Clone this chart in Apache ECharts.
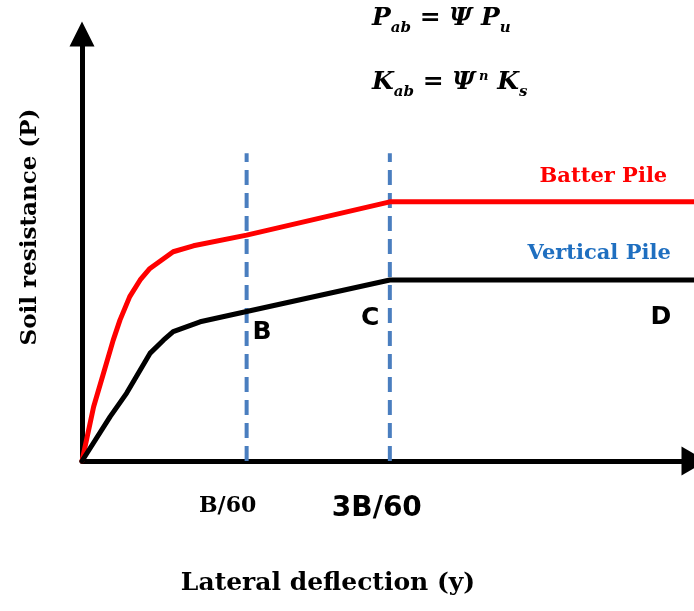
<!DOCTYPE html>
<html>
<head>
<meta charset="utf-8">
<script src="https://cdn.jsdelivr.net/npm/echarts@6/dist/echarts.min.js"></script>
<style>
html, body { margin: 0; padding: 0; background: #ffffff; }
#chart { width: 694px; height: 611px; }
</style>
</head>
<body>
<div id="chart"></div>
<script>
// Schematic p-y curves: lateral deflection (0-100) against soil resistance (0-100)
const batterY = [0, 1.9, 3.5, 5.1, 6.2, 7.8, 9.5, 11.1, 14.9, 18.2, 26.9, 50.3, 100];
const batterP = [0, 12.7, 20.5, 28.3, 33.0, 38.5, 42.4, 45.1, 49.0, 50.4, 52.9, 60.7, 60.7];
const verticalY = [0, 4.6, 7.3, 11.1, 13.3, 14.9, 19.3, 26.9, 50.3, 100];
const verticalP = [0, 10.4, 15.9, 25.2, 28.3, 30.3, 32.6, 35.0, 42.4, 42.4];

// Limit deflections B/60 and 3B/60 (dashed guides)
const limitY = [26.9, 50.3];
const limitTop = 72.1;
const tickLabels = ['B/60', '3B/60'];

// Point labels along the vertical-pile curve
const pointNames = ['B', 'C', 'D'];
const pointY = [29.4, 47.1, 94.6];
const pointP = [30.2, 33.3, 33.7];

// Curve captions
const curveNames = ['Batter Pile', 'Vertical Pile'];
const curveColors = ['#ff0000', '#1f6fc0'];
const curveNameY = [85.2, 84.5];
const curveNameP = [66.7, 48.5];

const SERIF = '"DejaVu Serif", serif';
const SANS = '"DejaVu Sans", sans-serif';

const zip = (xs, ys) => xs.map((x, i) => [x, ys[i]]);

const chart = echarts.init(document.getElementById('chart'), null, { renderer: 'canvas' });

const series = [
  {
    name: 'Batter Pile',
    type: 'line',
    data: zip(batterY, batterP),
    symbol: 'none',
    lineStyle: { color: '#ff0000', width: 5, join: 'round', cap: 'round' },
    z: 4
  },
  {
    name: 'Vertical Pile',
    type: 'line',
    data: zip(verticalY, verticalP),
    symbol: 'none',
    lineStyle: { color: '#000000', width: 5, join: 'round', cap: 'round' },
    z: 4
  }
];

limitY.forEach((y) => {
  series.push({
    type: 'line',
    data: [[y, 0], [y, limitTop]],
    symbol: 'none',
    lineStyle: { color: '#4a7ebf', width: 4, type: [15, 8] },
    z: 3
  });
});

series.push({
  type: 'scatter',
  symbolSize: 0,
  itemStyle: { opacity: 1 },
  data: pointNames.map((n, i) => ({ name: n, value: [pointY[i], pointP[i]] })),
  label: {
    show: true,
    position: 'inside',
    formatter: '{b}',
    color: '#000000',
    opacity: 1,
    fontFamily: SANS,
    fontWeight: 'bold',
    fontSize: 25
  },
  z: 5
});

series.push({
  type: 'scatter',
  symbolSize: 0,
  itemStyle: { opacity: 1 },
  data: curveNames.map((n, i) => ({
    name: n,
    value: [curveNameY[i], curveNameP[i]],
    label: { color: curveColors[i] }
  })),
  label: {
    show: true,
    position: 'inside',
    formatter: '{b}',
    opacity: 1,
    fontFamily: SERIF,
    fontWeight: 'bold',
    fontSize: 21
  },
  z: 5
});

const option = {
  animation: false,
  backgroundColor: '#ffffff',
  grid: { left: 82, right: 0, top: 34, bottom: 150, containLabel: false },
  xAxis: {
    type: 'value',
    min: 0,
    max: 100,
    splitLine: { show: false },
    axisTick: { show: false },
    axisLine: {
      show: true,
      onZero: false,
      symbol: ['none', 'triangle'],
      symbolSize: [29, 25],
      lineStyle: { color: '#000', width: 5 }
    },
    axisLabel: {
      show: true,
      customValues: limitY,
      margin: 34,
      formatter: (v) => {
        const i = limitY.indexOf(v);
        if (i === 0) return '{a|' + tickLabels[0] + '}';
        if (i === 1) return '{b|' + tickLabels[1] + '}';
        return '';
      },
      rich: {
        a: { fontFamily: SERIF, fontWeight: 'bold', fontSize: 22, color: '#000', padding: [0, 38, 0, 0] },
        b: { fontFamily: SANS, fontWeight: 'bold', fontSize: 28, color: '#000', padding: [0, 26, 0, 0] }
      }
    }
  },
  yAxis: {
    type: 'value',
    min: 0,
    max: 100,
    splitLine: { show: false },
    axisTick: { show: false },
    axisLabel: { show: false },
    axisLine: {
      show: true,
      onZero: false,
      symbol: ['none', 'triangle'],
      symbolSize: [25, 25],
      lineStyle: { color: '#000', width: 5 }
    }
  },
  graphic: [
    {
      type: 'text',
      x: 328,
      y: 583,
      style: {
        text: 'Lateral deflection (y)',
        font: 'bold 25px ' + SERIF,
        fill: '#000',
        textAlign: 'center',
        textVerticalAlign: 'middle'
      }
    },
    {
      type: 'text',
      x: 30,
      y: 227,
      rotation: Math.PI / 2,
      style: {
        text: 'Soil resistance (P)',
        font: 'bold 23px ' + SERIF,
        fill: '#000',
        textAlign: 'center',
        textVerticalAlign: 'middle'
      }
    },
    {
      type: 'text',
      x: 372,
      y: 6,
      style: {
        text: '{m|P}{s|ab}{m| = Ψ P}{s|u}',
        rich: {
          m: { font: 'italic bold 25px ' + SERIF, fill: '#000', lineHeight: 30, verticalAlign: 'top' },
          s: { font: 'italic bold 15px ' + SERIF, fill: '#000', lineHeight: 15, verticalAlign: 'bottom' }
        }
      }
    },
    {
      type: 'text',
      x: 372,
      y: 70,
      style: {
        text: '{m|K}{s|ab}{m| = Ψ}{p|n}{m| K}{s|s}',
        rich: {
          m: { font: 'italic bold 25px ' + SERIF, fill: '#000', lineHeight: 30, verticalAlign: 'top' },
          s: { font: 'italic bold 15px ' + SERIF, fill: '#000', lineHeight: 15, verticalAlign: 'bottom' },
          p: { font: 'italic bold 13px ' + SERIF, fill: '#000', lineHeight: 15, verticalAlign: 'top', padding: [0, 0, 0, 4] }
        }
      }
    }
  ],
  series: series
};

chart.setOption(option);
</script>
</body>
</html>
